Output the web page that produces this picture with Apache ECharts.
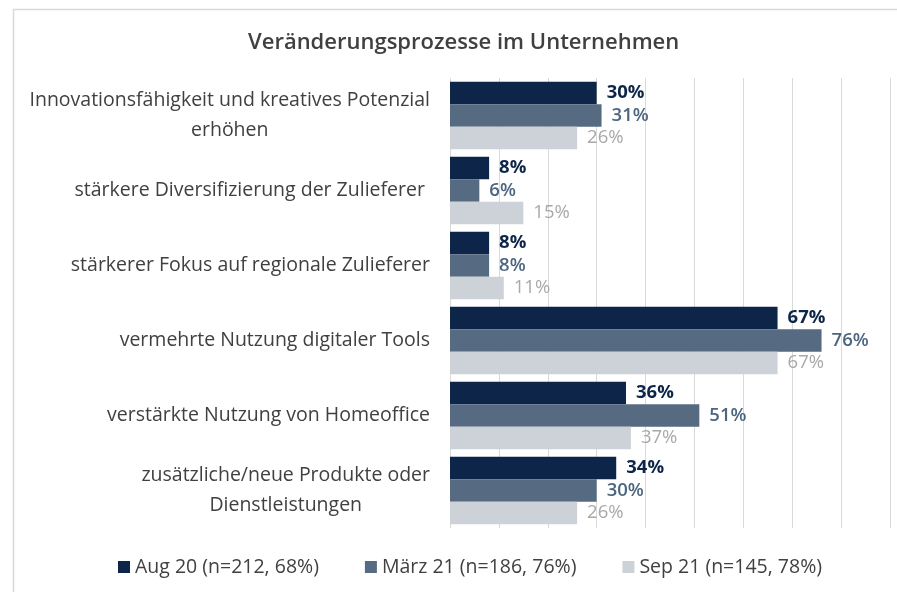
<!DOCTYPE html>
<html>
<head>
<meta charset="utf-8">
<script src="https://cdn.jsdelivr.net/npm/echarts@6/dist/echarts.min.js"></script>
<style>
  html, body { margin: 0; padding: 0; background: #fff; }
  #chart { width: 897px; height: 592px; }
</style>
</head>
<body>
<div id="chart"></div>
<script>
// Kategorien (Zeilenumbruch wie im Original)
const categories = [
  'Innovationsfähigkeit und kreatives Potenzial\nerhöhen',
  'stärkere Diversifizierung der Zulieferer ',
  'stärkerer Fokus auf regionale Zulieferer',
  'vermehrte Nutzung digitaler Tools',
  'verstärkte Nutzung von Homeoffice',
  'zusätzliche/neue Produkte oder\nDienstleistungen'
];
const seriesNames = ['Aug 20 (n=212, 68%)', 'März 21 (n=186, 76%)', 'Sep 21 (n=145, 78%)'];
const aug20 = [30, 8, 8, 67, 36, 34];
const maerz21 = [31, 6, 8, 76, 51, 30];
const sep21 = [26, 15, 11, 67, 37, 26];

const font = '"Open Sans"';
const barColors = ['#0c2548', '#566b82', '#cdd1d8'];
const labelColors = ['#0c2548', '#4d6680', '#a9a9a9'];
const labelWeights = ['bold', 600, 'normal'];

const chart = echarts.init(document.getElementById('chart'));

function makeSeries(name, data, i) {
  return {
    name: name,
    type: 'bar',
    data: data,
    barGap: '0%',
    barCategoryGap: '10%',
    itemStyle: { color: barColors[i] },
    label: {
      show: true,
      position: 'right',
      distance: 10,
      formatter: '{c}%',
      fontFamily: font,
      fontSize: 18.5,
      fontWeight: labelWeights[i],
      color: labelColors[i]
    }
  };
}

chart.setOption({
  animation: false,
  backgroundColor: '#fff',
  graphic: [{
    type: 'rect',
    shape: { x: 13.5, y: 9.5, width: 900, height: 600 },
    style: { fill: 'none', stroke: '#d9d9d9', lineWidth: 1.5 },
    silent: true
  }],
  title: {
    text: 'Veränderungsprozesse im Unternehmen',
    left: 243,
    top: 27,
    textStyle: { fontFamily: font, fontSize: 22, fontWeight: 600, color: '#404040' }
  },
  legend: {
    bottom: 10,
    left: 113,
    icon: 'rect',
    itemWidth: 12,
    itemHeight: 12,
    itemGap: 46,
    textStyle: { fontFamily: font, fontSize: 19.5, color: '#404040' },
    data: seriesNames
  },
  grid: { left: 450, right: 7, top: 78, bottom: 64, containLabel: false },
  xAxis: {
    type: 'value',
    min: 0,
    max: 90,
    interval: 10,
    axisLabel: { show: false },
    axisLine: { show: false },
    axisTick: { show: false },
    splitLine: { show: true, lineStyle: { color: '#d9d9d9', width: 1 } }
  },
  yAxis: {
    type: 'category',
    inverse: true,
    data: categories,
    axisLine: { show: false },
    axisTick: { show: false },
    axisLabel: {
      margin: 20,
      align: 'right',
      lineHeight: 30,
      formatter: function (v) {
        return v.split('\n').map(function (s) { return '{c|' + s + '}'; }).join('\n');
      },
      rich: {
        c: { align: 'center', fontFamily: font, fontSize: 19.5, color: '#404040', lineHeight: 30 }
      }
    }
  },
  series: [
    makeSeries(seriesNames[0], aug20, 0),
    makeSeries(seriesNames[1], maerz21, 1),
    makeSeries(seriesNames[2], sep21, 2)
  ]
});
</script>
</body>
</html>
